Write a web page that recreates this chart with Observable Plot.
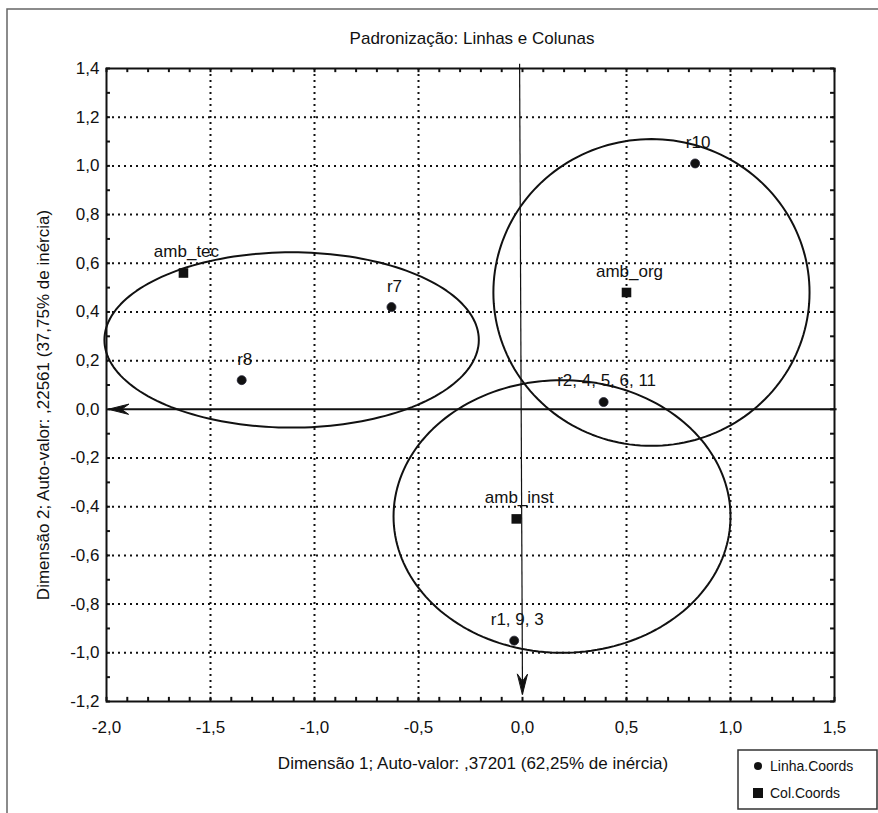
<!DOCTYPE html>
<html><head><meta charset="utf-8">
<script src="https://cdn.jsdelivr.net/npm/d3@7"></script>
<script src="https://cdn.jsdelivr.net/npm/@observablehq/plot@0.6"></script>
<style>body{margin:0;background:#fff;} #chart svg{display:block;}</style>
</head><body><div id="chart"></div>
<script>
// Row coordinates (Linha.Coords)
const rowLabels = ["r10", "r7", "r8", "r2, 4, 5, 6, 11", "r1, 9, 3"];
const rowX = [0.83, -0.63, -1.35, 0.39, -0.04];
const rowY = [1.01, 0.42, 0.12, 0.03, -0.95];
// Column coordinates (Col.Coords)
const colLabels = ["amb_tec", "amb_org", "amb_inst"];
const colX = [-1.63, 0.50, -0.03];
const colY = [0.56, 0.48, -0.45];
// Grouping ellipses
const ellipseNames = ["tec", "org", "inst"];
const ellipseCx = [-1.11, 0.62, 0.19];
const ellipseCy = [0.285, 0.48, -0.44];
const ellipseRx = [0.90, 0.76, 0.81];
const ellipseRy = [0.36, 0.63, 0.56];
// Axis ticks
const xTicks = [-2.0, -1.5, -1.0, -0.5, 0.0, 0.5, 1.0, 1.5];
const yTicks = [-1.2, -1.0, -0.8, -0.6, -0.4, -0.2, 0.0, 0.2, 0.4, 0.6, 0.8, 1.0, 1.2, 1.4];
const xGrid = [-1.5, -1.0, -0.5, 0.5, 1.0];
const yGrid = [-1.0, -0.8, -0.6, -0.4, -0.2, 0.2, 0.4, 0.6, 0.8, 1.0, 1.2];
// Axis arrows (origin lines)
const arrowX1 = [1.51, -0.014];
const arrowY1 = [0.0, 1.42];
const arrowX2 = [-1.99, 0.0];
const arrowY2 = [0.0, -1.17];
const arrowW = [2, 1.2];
const arrowRotate = [270, 180];

const title = "Padronização: Linhas e Colunas";
const xLabel = "Dimensão 1; Auto-valor: ,37201 (62,25% de inércia)";
const yLabel = "Dimensão 2; Auto-valor: ,22561 (37,75% de inércia)";
const legendLabels = ["Linha.Coords", "Col.Coords"];

const rows = rowLabels.map((t, i) => ({label: t, x: rowX[i], y: rowY[i]}));
const cols = colLabels.map((t, i) => ({label: t, x: colX[i], y: colY[i]}));
const ellipsePts = [];
ellipseNames.forEach((n, i) => {
  for (let k = 0; k < 180; k++) {
    const a = k / 180 * 2 * Math.PI;
    ellipsePts.push({name: n, x: ellipseCx[i] + ellipseRx[i] * Math.cos(a), y: ellipseCy[i] + ellipseRy[i] * Math.sin(a)});
  }
});
const arrows = arrowX1.map((v, i) => ({x1: v, y1: arrowY1[i], x2: arrowX2[i], y2: arrowY2[i], w: arrowW[i], rot: arrowRotate[i]}));
const minorX = d3.range(-20, 16).map(i => i / 10);
const minorY = d3.range(-12, 15).map(i => i / 10);
const fmt = d => d.toFixed(1).replace(".", ",");

// barbed, filled arrowhead: tip at origin, pointing "up" in shape space
const barbHead = {
  draw(context, l) {
    context.moveTo(0, 0);
    context.lineTo(-5, 20);
    context.lineTo(0, 13);
    context.lineTo(5, 20);
    context.closePath();
  }
};

const W = 878, H = 813;
const mL = 106, mR = 44, mT = 68, mB = 112;
const tx = 0.019, ty = 0.017;

const svg = Plot.plot({
  width: W, height: H,
  marginLeft: mL, marginRight: mR, marginTop: mT, marginBottom: mB,
  style: {fontFamily: "'Liberation Sans', Arial, sans-serif", fontSize: "17px", color: "#111", background: "#fff"},
  x: {domain: [-2.0, 1.5]},
  y: {domain: [-1.2, 1.4]},
  marks: [
    Plot.ruleX(xGrid, {stroke: "#111", strokeWidth: 2, strokeDasharray: "2,4"}),
    Plot.ruleY(yGrid, {stroke: "#111", strokeWidth: 2, strokeDasharray: "2,4"}),
    Plot.ruleX(minorX, {y1: -1.2, y2: -1.2 + ty, stroke: "#111", strokeWidth: 2}),
    Plot.ruleX(minorX, {y1: 1.4, y2: 1.4 - ty, stroke: "#111", strokeWidth: 2}),
    Plot.ruleY(minorY, {x1: -2.0, x2: -2.0 + tx, stroke: "#111", strokeWidth: 2}),
    Plot.ruleY(minorY, {x1: 1.5, x2: 1.5 - tx, stroke: "#111", strokeWidth: 2}),
    Plot.axisX(xTicks, {tickSize: 0, tickPadding: 19, tickFormat: fmt, fontSize: 17, label: null}),
    Plot.axisY(yTicks, {tickSize: 0, tickPadding: 7, tickFormat: fmt, fontSize: 17, label: null}),
    Plot.line(ellipsePts, {x: "x", y: "y", z: "name", curve: "linear-closed", stroke: "#111", strokeWidth: 2}),
    Plot.link(arrows, {x1: "x1", y1: "y1", x2: "x2", y2: "y2", stroke: "#111", strokeWidth: d => d.w}),
    Plot.vector(arrows, {x: "x2", y: "y2", rotate: "rot", length: 20, anchor: "start", shape: barbHead, fill: "#111", stroke: "#111", strokeWidth: 1}),
    Plot.frame({stroke: "#111", strokeWidth: 2}),
    Plot.dot(rows, {x: "x", y: "y", r: 4.5, fill: "#111", stroke: "#223", strokeWidth: 0.8}),
    Plot.dot(cols, {x: "x", y: "y", r: 5.4, symbol: "square", fill: "#111"}),
    Plot.text(rows, {x: "x", y: "y", text: "label", dx: 3, dy: -21, fontSize: 17, fill: "#111"}),
    Plot.text(cols, {x: "x", y: "y", text: "label", dx: 3, dy: -21, fontSize: 17, fill: "#111"})
  ]
});

const s = d3.select(svg);
const ff = "'Liberation Sans', Arial, sans-serif";
s.append("path").attr("d", "M7,813V9H878").attr("fill", "none").attr("stroke", "#666").attr("stroke-width", 1.5);
s.append("text").text(title).attr("x", 472).attr("y", 38).attr("text-anchor", "middle").attr("dominant-baseline", "central")
  .style("font-family", ff).style("font-size", "17px").attr("fill", "#111");
s.append("text").text(xLabel).attr("x", 473).attr("y", 763).attr("text-anchor", "middle").attr("dominant-baseline", "central")
  .style("font-family", ff).style("font-size", "17px").attr("fill", "#111");
s.append("text").text(yLabel).attr("transform", "translate(43,405) rotate(-90)").attr("text-anchor", "middle").attr("dominant-baseline", "central")
  .style("font-family", ff).style("font-size", "17px").attr("fill", "#111");
const lg = s.append("g");
lg.append("rect").attr("x", 738).attr("y", 750).attr("width", 139).attr("height", 59).attr("fill", "#fff").attr("stroke", "#333").attr("stroke-width", 1.5);
lg.append("circle").attr("cx", 758).attr("cy", 766).attr("r", 4).attr("fill", "#111");
lg.append("rect").attr("x", 753).attr("y", 788).attr("width", 10).attr("height", 10).attr("fill", "#111");
legendLabels.forEach((t, i) => {
  lg.append("text").text(t).attr("x", 770).attr("y", 766 + i * 27).attr("dominant-baseline", "central").attr("text-anchor", "start")
    .style("font-family", ff).style("font-size", "14px").attr("fill", "#111");
});
document.getElementById("chart").appendChild(svg);
</script>
</body></html>
